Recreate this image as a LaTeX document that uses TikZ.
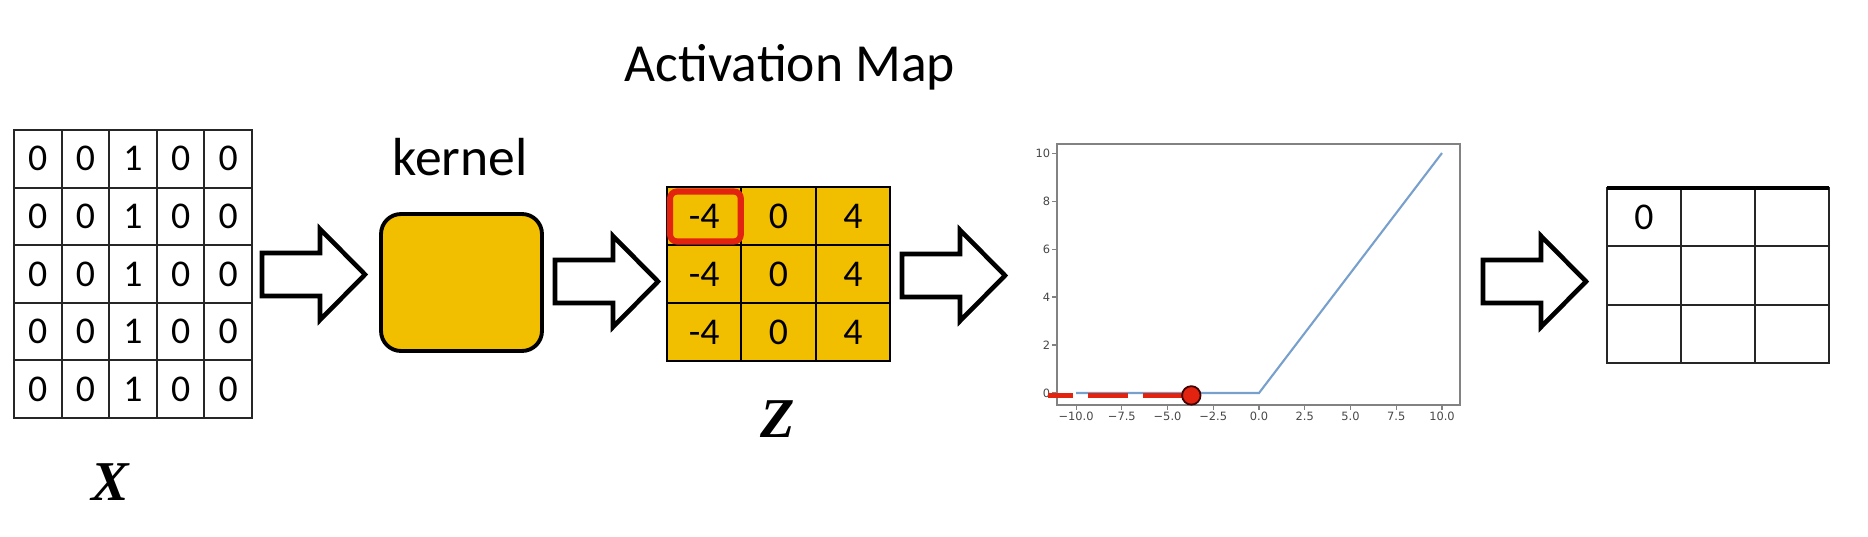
\documentclass[tikz,border=0pt]{standalone}
\usepackage{fontspec}
\setmainfont{Carlito}
\newfontfamily\tickfont{DejaVu Sans}
\newfontfamily\labelfont{Liberation Serif}
\definecolor{gold}{RGB}{242,190,0}
\definecolor{mred}{RGB}{225,35,15}
\definecolor{mblue}{RGB}{120,160,205}
\definecolor{axgrey}{RGB}{130,130,130}
\definecolor{ticktext}{RGB}{70,70,70}
\tikzset{
 cellx/.style={draw=black!85, line width=1.1pt, minimum width=0.952cm, minimum height=1.152cm, inner sep=0pt, outer sep=0pt, font=\fontsize{21.5}{22}\selectfont},
 cellz/.style={cellx, fill=gold, draw=black, minimum width=1.486cm, minimum height=1.16cm},
 cello/.style={cellx, minimum width=1.48cm, minimum height=1.167cm},
 blockarrow/.style={draw=black, line width=2.6pt, fill=white, line join=miter},
 titletext/.style={font=\fontsize{30.5}{32}\selectfont, anchor=base},
 varlabel/.style={font=\labelfont\bfseries\itshape\fontsize{32}{34}\selectfont, anchor=base},
 ticklab/.style={font=\tickfont\fontsize{6.5}{7}\selectfont, text=ticktext, inner sep=1pt},
 axline/.style={draw=axgrey, line width=0.9pt},
}
\newcommand{\blockarr}[2]{%
 \draw[blockarrow] ({#1},{#2-21.5}) -- ({#1+58},{#2-21.5}) -- ({#1+58},{#2-45.5}) -- ({#1+103},{#2}) -- ({#1+58},{#2+45.5}) -- ({#1+58},{#2+21.5}) -- ({#1},{#2+21.5}) -- cycle;}
\begin{document}
\begin{tikzpicture}[x=0.02cm,y=-0.02cm]
\useasboundingbox (0,0) rectangle (1868,537);
% input X
\foreach \r in {0,...,4}{\foreach \c in {0,...,4}{
 \node[cellx] (x\r\c) at ({14+47.6*(\c+0.5)},{130+57.6*(\r+0.5)}) {\ifnum\c=2 1\else 0\fi};
}}
\node[varlabel] (xl) at (110,500) {X};
% arrow 1
\blockarr{262}{274.5}
% kernel
\node[titletext] (kl) at (460,175) {kernel};
\node[draw=black, line width=2.2pt, fill=gold, rounded corners=0.4cm, minimum width=3.22cm, minimum height=2.74cm] (kernel) at (461.5,282.5) {};
% arrow 2
\blockarr{555}{281.5}
% Z
\node[titletext] (title) at (790,82) {Activation Map};
\foreach \r in {0,1,2}{\foreach \c/\v in {0/-4,1/0,2/4}{
 \node[cellz] (z\r\c) at ({667+74.33*(\c+0.5)},{187+58*(\r+0.5)}) {\v};
}}
\draw[mred, line width=3.5pt, rounded corners=4pt] ([shift={(3,4.5)}]z00.north west) rectangle ([shift={(-0.5,-3.5)}]z00.south east);
\node[varlabel] (zl) at (778,437) {Z};
% arrow 3
\blockarr{902}{275.5}
% plot
\begin{scope}[shift={(1259,393)}, x=0.366cm, y=0.48cm]
 \draw[axline] (-11.04,-0.5) rectangle (10.98,10.375);
 \foreach \t [count=\i] in {0,2,4,6,8,10}{
  \draw[axline, line width=0.6pt] (-11.04,\t) -- ++(-0.25,0);
  \node[ticklab, anchor=east] (yt\i) at (-11.3,\t) {\t};
 }
 \foreach \t/\l [count=\i] in {-10/−10.0,-7.5/−7.5,-5/−5.0,-2.5/−2.5,0/0.0,2.5/2.5,5/5.0,7.5/7.5,10/10.0}{
  \draw[axline, line width=0.6pt] (\t,-0.5) -- ++(0,-0.2);
  \node[ticklab, anchor=north] (xt\i) at (\t,-0.72) {\l};
 }
 \draw[mblue, line width=1.2pt] (-10,0) -- (0,0) -- (10,10);
 \draw[mred, line width=2.9pt] (-11.53,-0.1) -- (-10.16,-0.1) (-9.34,-0.1) -- (-7.16,-0.1) (-6.34,-0.1) -- (-3.93,-0.1);
 \node[circle, fill=mred, draw=black!75!red, line width=1pt, minimum size=0.37cm, inner sep=0pt] (dot) at (-3.7,-0.1) {};
\end{scope}
% arrow 4
\blockarr{1483}{281.5}
% output
\foreach \r in {0,1,2}{\foreach \c in {0,1,2}{
 \node[cello] (o\r\c) at ({1607+74*(\c+0.5)},{188+58.33*(\r+0.5)}) {};
}}
\node[font=\fontsize{21.5}{22}\selectfont, inner sep=0pt] (ozero) at (o00) {0};
\draw[line width=1.8pt] (o00.north west) -- (o02.north east);
\end{tikzpicture}
\end{document}
